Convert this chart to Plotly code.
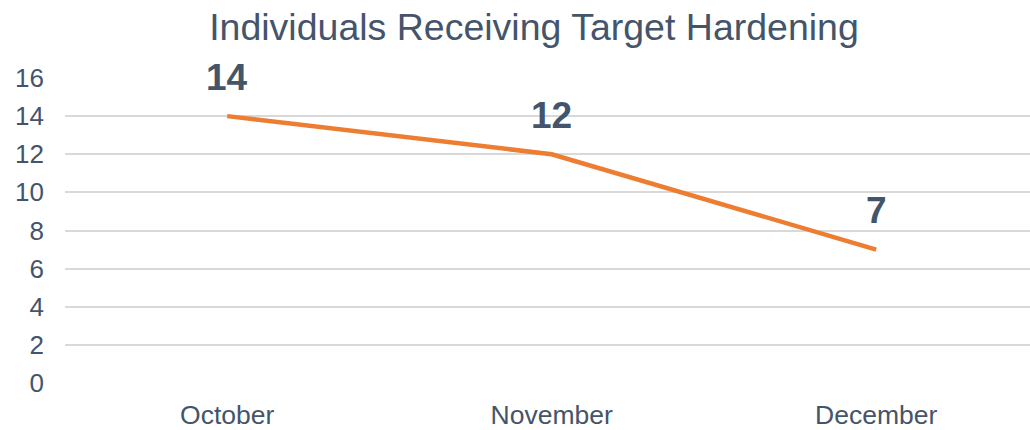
import plotly.graph_objects as go

months = ["October", "November", "December"]
values = [14, 12, 7]
y_ticks = [0, 2, 4, 6, 8, 10, 12, 14, 16]

TXT = "#44546A"
FONT = "Liberation Sans, Arial, sans-serif"

W, H = 1030, 430

fig = go.Figure()
fig.add_trace(go.Scatter(
    x=list(range(len(months))), y=values, mode="lines",
    line=dict(color="#ED7D31", width=4.5), hoverinfo="skip",
))

for i, v in enumerate(values):
    fig.add_annotation(x=i, y=v, text=f"<b>{v}</b>", showarrow=False,
                       yshift=39, font=dict(size=37, color=TXT, family=FONT))

fig.update_layout(
    width=W, height=H,
    margin=dict(l=65, r=0, t=78, b=45),
    paper_bgcolor="white", plot_bgcolor="white",
    showlegend=False,
    title=dict(text="Individuals Receiving Target Hardening",
               x=534 / W, xref="container", xanchor="center",
               y=1 - 26.5 / H, yref="container", yanchor="middle",
               font=dict(size=37.5, color=TXT, family=FONT)),
    xaxis=dict(range=[-0.5, 2.474], tickmode="array",
               tickvals=list(range(len(months))), ticktext=months,
               showgrid=False, zeroline=False, showline=False,
               tickfont=dict(size=26.5, color=TXT, family=FONT),
               ticks="", ticklabelstandoff=13),
    yaxis=dict(range=[0, 16], tickmode="array", tickvals=y_ticks,
               showgrid=True, gridcolor="#D9D9D9", gridwidth=1.5,
               zeroline=False, showline=False, ticks="",
               tickfont=dict(size=26, color=TXT, family=FONT),
               ticklabelstandoff=20),
)

fig.write_html("out.html", config={"displayModeBar": False},
               post_script="document.body.style.margin='0';document.body.style.overflow='hidden';")
